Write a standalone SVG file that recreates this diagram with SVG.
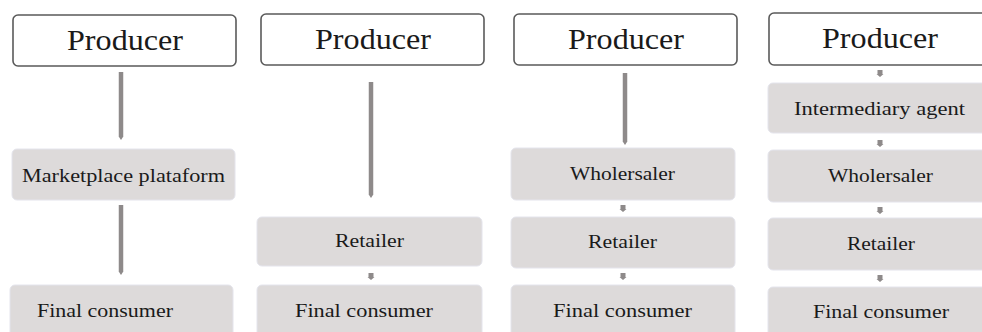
<svg xmlns="http://www.w3.org/2000/svg" width="982" height="332" viewBox="0 0 982 332">
<style>
.prod{fill:#ffffff;stroke:#5a5a5a;stroke-width:1.6}
.box{fill:#dddada;stroke:#e4e4ec;stroke-width:1}
.tp{font-family:"Liberation Serif",serif;font-size:30px;fill:#1a1a1a}
.tb{font-family:"Liberation Serif",serif;font-size:19px;fill:#1a1a1a}
.ln{stroke:#8e8a8a;stroke-width:4.5;fill:none}
.sa{fill:#8e8a8a}
</style>
<g id="connectors">
<line class="ln" x1="121" y1="72" x2="121" y2="137"/>
<path class="sa" d="M119,137 L123,137 L121,140 Z"/>
<line class="ln" x1="121" y1="205" x2="121" y2="272"/>
<path class="sa" d="M119,272 L123,272 L121,275 Z"/>
<line class="ln" x1="371" y1="82" x2="371" y2="195"/>
<path class="sa" d="M369,195 L373,195 L371,198 Z"/>
<path class="sa" d="M368.5,273 h5 v4 h1 l-3.5,3 l-3.5,-3 h1 z"/>
<line class="ln" x1="625" y1="73" x2="625" y2="142"/>
<path class="sa" d="M623,142 L627,142 L625,145 Z"/>
<path class="sa" d="M620.5,205 h5 v4 h1 l-3.5,3 l-3.5,-3 h1 z"/>
<path class="sa" d="M620.5,273 h5 v4 h1 l-3.5,3 l-3.5,-3 h1 z"/>
<path class="sa" d="M877.5,70 h5 v4 h1 l-3.5,3 l-3.5,-3 h1 z"/>
<path class="sa" d="M877.5,140 h5 v4 h1 l-3.5,3 l-3.5,-3 h1 z"/>
<path class="sa" d="M877.5,207 h5 v4 h1 l-3.5,3 l-3.5,-3 h1 z"/>
<path class="sa" d="M877.5,275 h5 v4 h1 l-3.5,3 l-3.5,-3 h1 z"/>
</g>
<g id="producer1"><rect class="prod" x="13" y="15" width="223" height="51" rx="5"/><text class="tp" x="67" y="50" textLength="116" lengthAdjust="spacingAndGlyphs">Producer</text></g>
<g id="marketplace"><rect class="box" x="12" y="149" width="223" height="51" rx="5"/><text class="tb" x="22" y="182" textLength="203" lengthAdjust="spacingAndGlyphs">Marketplace plataform</text></g>
<g id="final1"><rect class="box" x="10" y="285" width="223" height="52" rx="5"/><text class="tb" x="37" y="317" textLength="136" lengthAdjust="spacingAndGlyphs">Final consumer</text></g>
<g id="producer2"><rect class="prod" x="261" y="14" width="223" height="51" rx="5"/><text class="tp" x="315" y="49" textLength="116" lengthAdjust="spacingAndGlyphs">Producer</text></g>
<g id="retailer2"><rect class="box" x="257" y="217" width="225" height="49" rx="5"/><text class="tb" x="335" y="247" textLength="69" lengthAdjust="spacingAndGlyphs">Retailer</text></g>
<g id="final2"><rect class="box" x="257" y="285" width="225" height="52" rx="5"/><text class="tb" x="295" y="317" textLength="138" lengthAdjust="spacingAndGlyphs">Final consumer</text></g>
<g id="producer3"><rect class="prod" x="514" y="14" width="223" height="51" rx="5"/><text class="tp" x="568" y="49" textLength="116" lengthAdjust="spacingAndGlyphs">Producer</text></g>
<g id="wholesaler3"><rect class="box" x="511" y="148" width="224" height="52" rx="5"/><text class="tb" x="570" y="180" textLength="105" lengthAdjust="spacingAndGlyphs">Wholersaler</text></g>
<g id="retailer3"><rect class="box" x="511" y="217" width="224" height="51" rx="5"/><text class="tb" x="588" y="248" textLength="69" lengthAdjust="spacingAndGlyphs">Retailer</text></g>
<g id="final3"><rect class="box" x="511" y="285" width="224" height="52" rx="5"/><text class="tb" x="553" y="317" textLength="139" lengthAdjust="spacingAndGlyphs">Final consumer</text></g>
<g id="producer4"><rect class="prod" x="769" y="13" width="230" height="52" rx="5"/><text class="tp" x="822" y="48" textLength="116" lengthAdjust="spacingAndGlyphs">Producer</text></g>
<g id="intermediary4"><rect class="box" x="768" y="83" width="230" height="50" rx="5"/><text class="tb" x="794" y="115" textLength="171" lengthAdjust="spacingAndGlyphs">Intermediary agent</text></g>
<g id="wholesaler4"><rect class="box" x="768" y="150" width="230" height="52" rx="5"/><text class="tb" x="828" y="182" textLength="105" lengthAdjust="spacingAndGlyphs">Wholersaler</text></g>
<g id="retailer4"><rect class="box" x="768" y="218" width="230" height="52" rx="5"/><text class="tb" x="847" y="250" textLength="68" lengthAdjust="spacingAndGlyphs">Retailer</text></g>
<g id="final4"><rect class="box" x="768" y="287" width="230" height="52" rx="5"/><text class="tb" x="813" y="318" textLength="136" lengthAdjust="spacingAndGlyphs">Final consumer</text></g>
</svg>
